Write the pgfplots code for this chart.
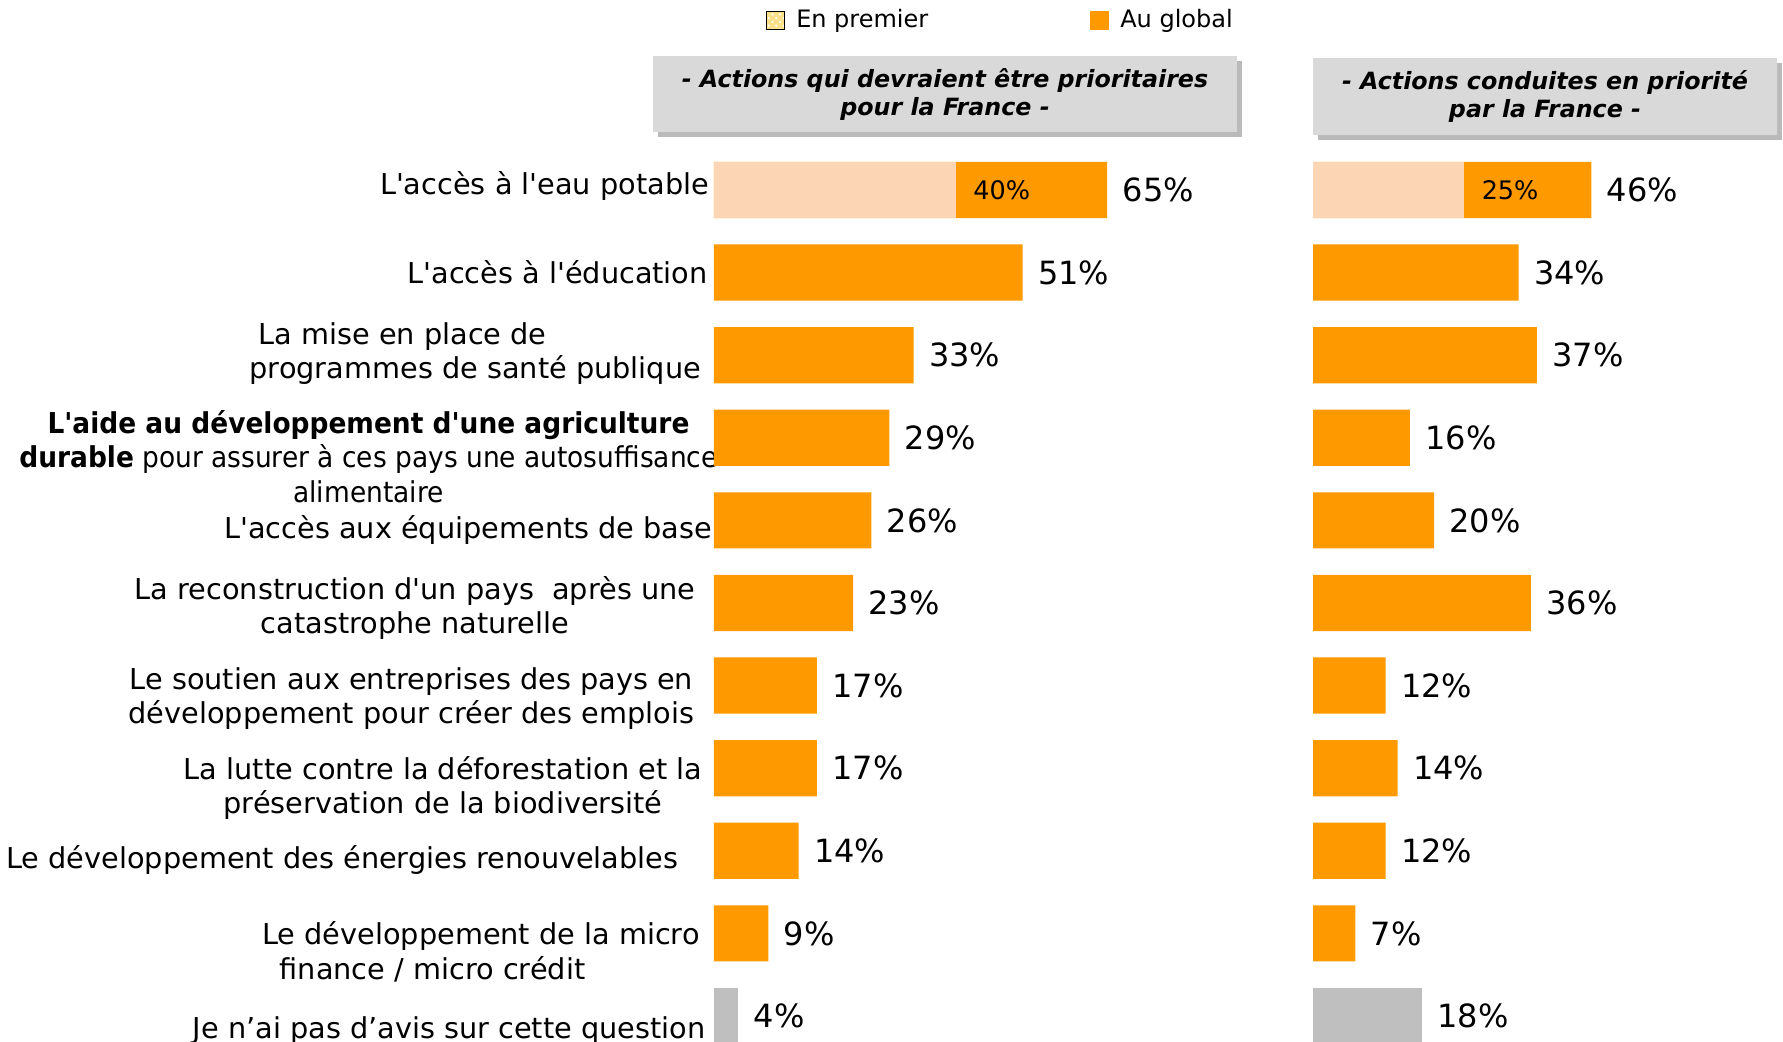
\documentclass[border=0pt]{standalone}
\usepackage{fontspec}
\newfontfamily\dv{DejaVu Sans}
\usepackage{pgfplots}
\pgfplotsset{compat=1.18}
\usetikzlibrary{shadows,patterns}

\definecolor{glob}{HTML}{FF9900}
\definecolor{prem}{HTML}{FCD5B5}
\definecolor{gris}{HTML}{BFBFBF}
\definecolor{entete}{HTML}{D9D9D9}
\definecolor{jaune}{HTML}{FCE08A}

% étiquette de catégorie : alignement, écart à droite, texte
\newcommand{\lbl}[3][c]{\begin{tabular}{@{}#1@{}}#3\end{tabular}\hspace*{#2}}

\pgfplotsset{
  panneau/.style={
    xbar, bar width=0.68, bar shift=0pt, scale only axis, height=416.8pt,
    xmin=0, ymin=-2.3, ymax=10.315, y dir=reverse, enlargelimits=false,
    axis line style={draw=none}, major tick length=0pt, xtick=\empty,
    clip=false, anchor=south west, point meta=x,
    /pgf/number format/assume math mode=true,
    nodes near coords={\pgfmathprintnumber{\pgfplotspointmeta}\%},
    every node near coord/.append style={font=\dv\fontsize{12.8}{14}\selectfont,
      anchor=west, inner sep=0pt, xshift=6pt, text=black},
  },
  premier/.style={fill=prem, draw=none,
    nodes near coords style={font=\dv\fontsize{10.2}{11}\selectfont, xshift=0.8pt}},
}

\begin{document}
\begin{tikzpicture}
\path[use as bounding box] (0,0) rectangle (713.2pt,416.8pt);

\begin{axis}[panneau, at={(285.6pt,0pt)}, width=242pt, xmax=100,
  ytick={-0.03,1.05,1.995,3.28,4.13,5.08,6.17,7.26,8.13,9.26,10.19},
  yticklabels={
    {\lbl{1.8pt}{L'accès à l'eau potable}},
    {\lbl{2.3pt}{L'accès à l'éducation}},
    {\lbl[l]{5pt}{\hspace*{3.6pt}La mise en place de\\programmes de santé publique}},
    {\scalebox{0.92}[1]{\lbl{-1.8pt}{\textbf{L'aide au développement d'une agriculture}\\\textbf{durable} pour assurer à ces pays une autosuffisance\\alimentaire}}},
    {\lbl{0.5pt}{L'accès aux équipements de base}},
    {\lbl{7.3pt}{La reconstruction d'un pays \ après une\\catastrophe naturelle}},
    {\lbl{7.7pt}{Le soutien aux entreprises des pays en\\développement pour créer des emplois}},
    {\lbl{4.5pt}{La lutte contre la déforestation et la\\préservation de la biodiversité}},
    {\lbl{14pt}{Le développement des énergies renouvelables}},
    {\lbl[l]{5.5pt}{Le développement de la micro\\\hspace*{7pt}finance / micro crédit}},
    {\lbl{3.2pt}{Je n’ai pas d’avis sur cette question}},
  },
  yticklabel style={font=\dv\fontsize{11.5}{13.8}\selectfont, inner sep=0pt, anchor=east},
  legend style={draw=none, fill=none, inner sep=0pt, at={(0.0843,0.9808)}, anchor=west,
    font=\dv\fontsize{9.6}{11}\selectfont,
    /tikz/every odd column/.append style={column sep=2.7pt},
    /tikz/every even column/.append style={column sep=62.5pt}},
  legend columns=2, legend cell align=left,
]
  \addlegendimage{legend image code/.code={
      \fill[jaune] (0pt,-3.6pt) rectangle (7.2pt,3.6pt);
      \fill[pattern=crosshatch dots, pattern color=white] (0pt,-3.6pt) rectangle (7.2pt,3.6pt);}}
  \addlegendimage{legend image code/.code={\fill[glob] (0pt,-3.6pt) rectangle (7.2pt,3.6pt);}}
  \addplot[fill=glob, draw=none] coordinates {
    (65,0) (51,1) (33,2) (29,3) (26,4) (23,5) (17,6) (17,7) (14,8) (9,9)};
  \addplot[fill=gris, draw=none] coordinates {(4,10)};
  \addplot[premier] coordinates {(40,0)};
  \legend{En premier, Au global}
\end{axis}

\begin{axis}[panneau, at={(525.2pt,0pt)}, width=169.4pt, xmax=70, ytick=\empty]
  \addplot[fill=glob, draw=none] coordinates {
    (46,0) (34,1) (37,2) (16,3) (20,4) (36,5) (12,6) (14,7) (12,8) (7,9)};
  \addplot[fill=gris, draw=none] coordinates {(18,10)};
  \addplot[premier] coordinates {(25,0)};
\end{axis}

\tikzset{entetes/.style={fill=entete, inner sep=0pt, align=center,
  drop shadow={shadow xshift=2pt, shadow yshift=-2pt, fill=black!45, opacity=0.6},
  font=\dv\bfseries\itshape\fontsize{9.5}{11.2}\selectfont}}
\node[entetes, minimum width=233.6pt, minimum height=30.4pt] at (378pt,379.2pt)
  {- Actions qui devraient être prioritaires\\pour la France -};
\node[entetes, minimum width=185.6pt, minimum height=30.8pt] at (618pt,378.2pt)
  {- Actions conduites en priorité\\par la France -};
\end{tikzpicture}
\end{document}
